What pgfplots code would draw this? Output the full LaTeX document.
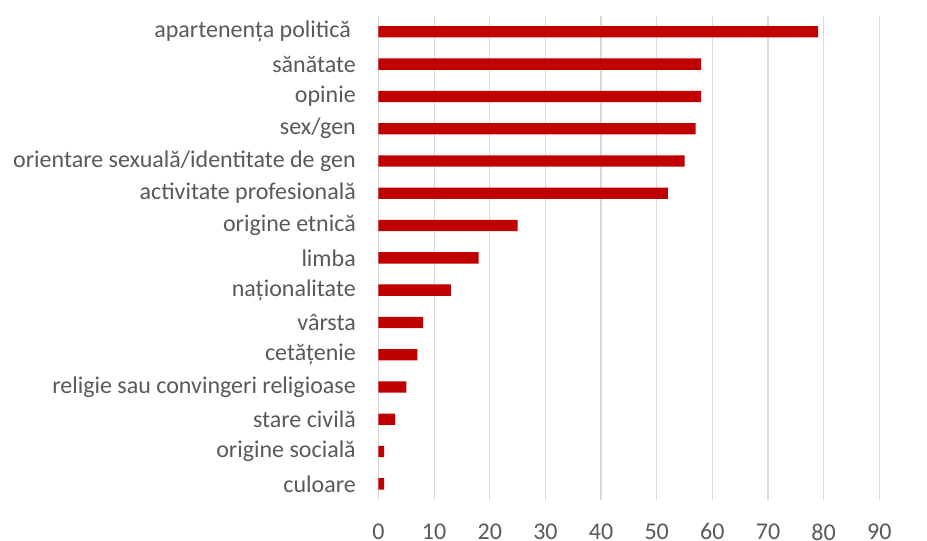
\documentclass[border=0pt]{standalone}
\usepackage{pgfplots}
\pgfplotsset{compat=1.18}
\usepackage{fontspec}
\setmainfont{Carlito}
\definecolor{barred}{HTML}{C00000}
\definecolor{gridgray}{HTML}{D9D9D9}
\definecolor{txtgray}{HTML}{595959}
\begin{document}
\begin{tikzpicture}
\path[use as bounding box] (-378.5pt,-41pt) rectangle (548.5pt,500pt);
\begin{axis}[
  anchor=south west,
  at={(0pt,0pt)},
  scale only axis,
  width=500.8pt, height=484.3pt,
  xbar, bar width=11.3pt,
  xmin=0, xmax=90,
  ymin=-0.5, ymax=14.5,
  y dir=reverse,
  xtick={0,10,...,90},
  ytick={0,...,14},
  yticklabels={{apartenența politică\kern5pt},sănătate,opinie,sex/gen,orientare sexuală/identitate de gen,activitate profesională,origine etnică,limba,naționalitate,vârsta,cetățenie,religie sau convingeri religioase,stare civilă,origine socială,culoare},
  xmajorgrids,
  major grid style={draw=gridgray, line width=1.2pt},
  axis line style={draw=none},
  major tick length=0pt,
  tick style={draw=none},
  /pgf/number format/assume math mode=true,
  ticklabel style={font=\fontsize{24}{28}\selectfont, text=txtgray, inner sep=0pt},
  yticklabel style={anchor=east, xshift=-22.5pt},
  xticklabel style={anchor=north, yshift=-23.5pt},
]
\addplot[fill=barred, draw=none] coordinates {
(79,0) (58,1) (58,2) (57,3) (55,4) (52,5) (25,6) (18,7) (13,8) (8,9) (7,10) (5,11) (3,12) (1,13) (1,14)
};
\end{axis}
\end{tikzpicture}
\end{document}
